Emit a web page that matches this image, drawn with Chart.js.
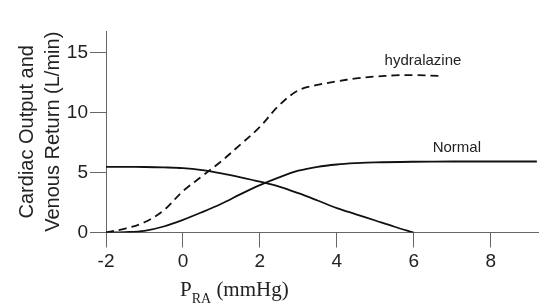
<!DOCTYPE html>
<html>
<head>
<meta charset="utf-8">
<script src="https://cdn.jsdelivr.net/npm/chart.js@4"></script>
<style>
html, body { margin: 0; padding: 0; background: #fff; }
#wrap { width: 540px; height: 308px; }
</style>
</head>
<body>
<div id="wrap"><canvas id="chart"></canvas></div>
<script>
// Right atrial pressure (mmHg) sample points
const venousPressure = [-2, -1.5, -1, -0.5, 0, 0.5, 1, 1.5, 2, 2.5, 3, 3.5, 4, 4.5, 5, 5.5, 6];
const venousReturn = [5.47, 5.47, 5.46, 5.43, 5.37, 5.2, 4.93, 4.6, 4.24, 3.83, 3.28, 2.67, 2.04, 1.52, 1.0, 0.48, 0];

const normalPressure = [-2, -1.5, -1, -0.5, 0, 0.5, 1, 1.5, 2, 2.5, 3, 3.5, 4, 4.5, 5, 6, 7, 8, 9.2];
const normalOutput = [0, 0.03, 0.14, 0.5, 1.05, 1.7, 2.4, 3.2, 3.95, 4.6, 5.15, 5.48, 5.67, 5.78, 5.85, 5.9, 5.92, 5.92, 5.92];

const hydralazinePressure = [-2, -1.5, -1, -0.5, 0, 0.5, 1, 1.5, 2, 2.5, 3, 3.5, 4, 4.5, 5, 5.5, 6, 6.7];
const hydralazineOutput = [0, 0.33, 0.85, 1.85, 3.45, 4.7, 5.95, 7.35, 8.8, 10.6, 11.85, 12.3, 12.6, 12.85, 13.0, 13.1, 13.12, 13.05];

const xTicks = [-2, 0, 2, 4, 6, 8];
const yTicks = [0, 5, 10, 15];

const curveNames = ['hydralazine', 'Normal'];
// anchor of each curve name, in axis units
const nameAnchors = [[6.24, 14.27], [7.12, 7.02]];

function pairs(xs, ys) {
    return xs.map((x, i) => ({x: x, y: ys[i]}));
}

// curve names written next to the lines
const curveNamePlugin = {
    id: 'curveNames',
    afterDatasetsDraw(chart) {
        const {ctx, scales} = chart;
        ctx.save();
        ctx.fillStyle = '#222';
        ctx.font = '15px "Liberation Sans", Arial, sans-serif';
        ctx.textAlign = 'center';
        ctx.textBaseline = 'middle';
        curveNames.forEach((name, i) => {
            ctx.fillText(name, scales.x.getPixelForValue(nameAnchors[i][0]), scales.y.getPixelForValue(nameAnchors[i][1]));
        });
        ctx.restore();
    }
};

// x title needs a subscript, so it is drawn by hand
const xTitlePlugin = {
    id: 'xTitle',
    afterDraw(chart) {
        const {ctx} = chart;
        const xs = chart.scales.x;
        let x = xs.getPixelForValue(xs.min) + 74;
        const base = xs.bottom - 12;
        ctx.save();
        ctx.fillStyle = '#222';
        ctx.textAlign = 'left';
        ctx.textBaseline = 'alphabetic';
        ctx.font = '21px "Liberation Serif", "Times New Roman", serif';
        ctx.fillText('P', x, base);
        x += ctx.measureText('P').width;
        ctx.font = '14px "Liberation Serif", "Times New Roman", serif';
        ctx.fillText('RA', x, base + 7);
        x += ctx.measureText('RA').width;
        ctx.font = '21px "Liberation Serif", "Times New Roman", serif';
        ctx.fillText(' (mmHg)', x, base);
        ctx.restore();
    }
};

const ctx = document.getElementById('chart').getContext('2d');
const chart = new Chart(ctx, {
    type: 'line',
    data: {
        datasets: [{
            label: 'Venous return',
            data: pairs(venousPressure, venousReturn),
            borderColor: '#111',
            borderWidth: 1.8
        }, {
            label: 'Normal',
            data: pairs(normalPressure, normalOutput),
            borderColor: '#111',
            borderWidth: 1.8
        }, {
            label: 'hydralazine',
            data: pairs(hydralazinePressure, hydralazineOutput),
            borderColor: '#111',
            borderWidth: 1.8,
            borderDash: [8, 5]
        }]
    },
    options: {
        responsive: true,
        maintainAspectRatio: false,
        animation: false,
        layout: {
            padding: {top: 31, right: 2, left: 0, bottom: 0}
        },
        elements: {
            point: {radius: 0},
            line: {tension: 0.35, fill: false}
        },
        plugins: {
            legend: {display: false},
            tooltip: {enabled: false}
        },
        scales: {
            x: {
                type: 'linear',
                min: -2,
                max: 9.23,
                afterBuildTicks: s => { s.ticks = xTicks.map(v => ({value: v})); },
                afterFit: s => { s.height = 75.5; },
                grid: {drawOnChartArea: false, tickLength: 15, color: '#666'},
                border: {color: '#666'},
                ticks: {
                    color: '#222',
                    padding: 3,
                    maxRotation: 0,
                    font: {family: '"Liberation Sans", Arial, sans-serif', size: 19}
                }
            },
            y: {
                min: 0,
                max: 16.8,
                afterBuildTicks: s => { s.ticks = yTicks.map(v => ({value: v})); },
                afterFit: s => { s.width = 106; },
                grid: {drawOnChartArea: false, tickLength: 16, color: '#666'},
                border: {color: '#666'},
                ticks: {
                    color: '#222',
                    padding: 2,
                    font: {family: '"Liberation Sans", Arial, sans-serif', size: 19}
                },
                title: {
                    display: true,
                    text: ['Cardiac Output and', 'Venous Return (L/min)'],
                    color: '#222',
                    padding: {top: 14, bottom: 0},
                    font: {family: '"Liberation Sans", Arial, sans-serif', size: 20, lineHeight: 1.32}
                }
            }
        }
    },
    plugins: [curveNamePlugin, xTitlePlugin]
});
</script>
</body>
</html>
